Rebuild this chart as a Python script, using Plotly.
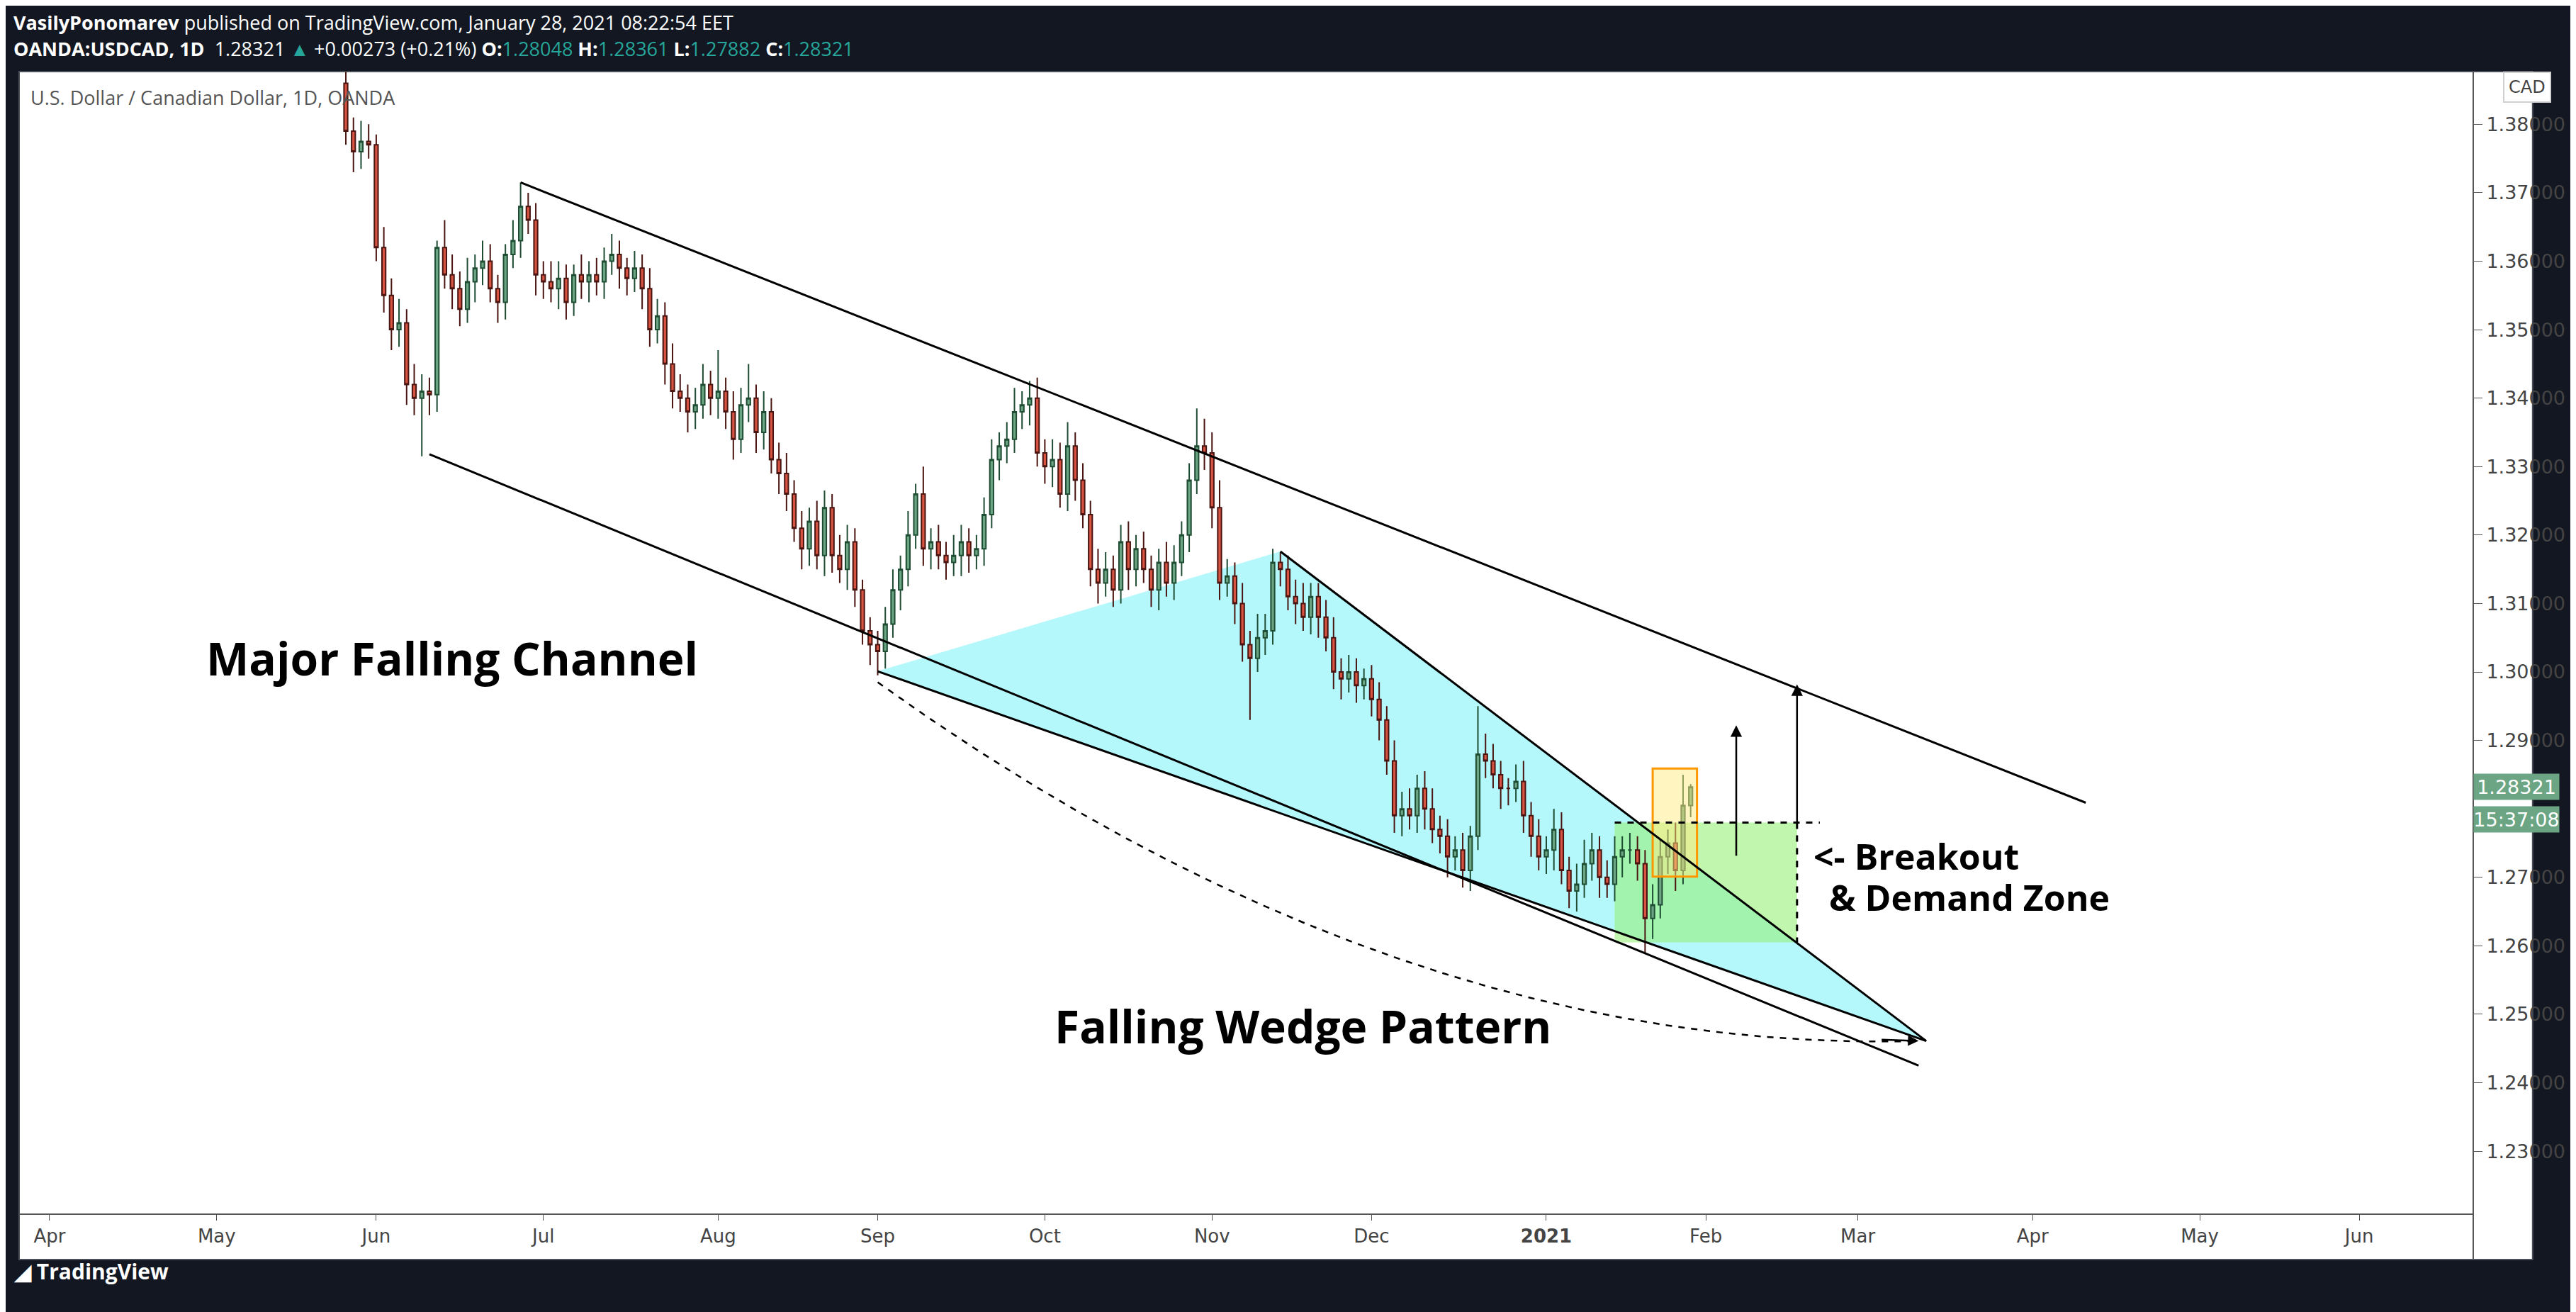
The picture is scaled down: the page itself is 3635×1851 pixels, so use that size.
import numpy as np
import pandas as pd
import plotly.graph_objects as go

# daily closes, May 26 2020 .. Jan 28 2021 (weekdays)
closes = [
    1.3790, 1.3760, 1.3775, 1.3770,
    1.3620, 1.3550, 1.3500, 1.3510, 1.3420, 1.3400, 1.3410, 1.3405, 1.3620, 1.3580, 1.3560,
    1.3530, 1.3570, 1.3590, 1.3600, 1.3560, 1.3540, 1.3610, 1.3630, 1.3680, 1.3660, 1.3580,
    1.3570, 1.3560, 1.3575, 1.3540, 1.3580, 1.3570, 1.3580, 1.3570, 1.3600, 1.3610, 1.3590,
    1.3575, 1.3590, 1.3560, 1.3500, 1.3520, 1.3450, 1.3410, 1.3400, 1.3380, 1.3390, 1.3420, 1.3400,
    1.3410, 1.3380, 1.3340, 1.3390, 1.3400, 1.3350, 1.3380, 1.3310, 1.3290, 1.3260, 1.3210,
    1.3180, 1.3220, 1.3170, 1.3240, 1.3170, 1.3150, 1.3190, 1.3120, 1.3060, 1.3040,
    1.3030, 1.3070, 1.3120, 1.3150, 1.3200, 1.3260, 1.3180, 1.3190, 1.3170, 1.3160, 1.3170,
    1.3190, 1.3170, 1.3180, 1.3230, 1.3310, 1.3330, 1.3340, 1.3380, 1.3390, 1.3400, 1.3320,
    1.3300, 1.3310, 1.3260, 1.3330, 1.3280, 1.3230, 1.3150, 1.3130, 1.3150, 1.3120, 1.3190,
    1.3150, 1.3180, 1.3150, 1.3120, 1.3160, 1.3130, 1.3160, 1.3200, 1.3280, 1.3330, 1.3320,
    1.3240, 1.3130, 1.3140, 1.3100, 1.3040, 1.3020, 1.3050, 1.3060, 1.3160, 1.3150, 1.3110,
    1.3100, 1.3080, 1.3110, 1.3080, 1.3050, 1.3000, 1.2990, 1.3000, 1.2980, 1.2990,
    1.2960, 1.2930, 1.2870, 1.2790, 1.2800, 1.2790, 1.2830, 1.2800, 1.2770, 1.2760, 1.2730,
    1.2740, 1.2710, 1.2760, 1.2880, 1.2870, 1.2850, 1.2830, 1.2830, 1.2840, 1.2790, 1.2760, 1.2730,
    1.2740, 1.2770, 1.2710, 1.2680, 1.2690, 1.2720, 1.2740, 1.2700, 1.2690, 1.2730, 1.2740,
    1.2740, 1.2720, 1.2640, 1.2660, 1.2730, 1.2750, 1.2710, 1.2805, 1.28321,
]
first_open = 1.3860
# wick lengths in pips
upper_wick = [
    40, 20, 30, 25,
    15, 30, 25, 35, 20, 30, 25, 20, 10, 40, 30,
    25, 35, 20, 30, 25, 20, 15, 30, 35, 20, 25,
    20, 30, 25, 20, 15, 30, 20, 25, 20, 30, 20,
    15, 25, 20, 30, 25, 20, 30, 25, 20, 25, 30, 20,
    60, 20, 30, 25, 50, 20, 30, 20, 25, 30, 20,
    25, 20, 30, 25, 20, 30, 25, 20, 15, 20,
    20, 25, 30, 20, 35, 15, 40, 20, 25, 20, 30,
    25, 20, 20, 25, 30, 20, 25, 35, 20, 25, 30,
    20, 30, 25, 35, 20, 25, 20, 30, 25, 20, 25,
    30, 20, 25, 20, 20, 30, 25, 20, 25, 55, 40,
    30, 40, 25, 20, 30, 20, 35, 25, 20, 15, 20,
    25, 30, 20, 20, 25, 30, 20, 25, 20, 15,
    20, 25, 20, 30, 25, 30, 20, 25, 30, 20, 25,
    20, 25, 15, 70, 30, 25, 20, 15, 25, 30, 20, 25,
    20, 30, 25, 20, 30, 35, 25, 20, 25, 30, 20,
    25, 20, 20, 30, 25, 20, 30, 45, 4,
]
lower_wick = [
    20, 30, 25, 20,
    20, 25, 30, 25, 30, 25, 85, 30, 25, 20, 30,
    25, 20, 30, 25, 20, 30, 25, 20, 25, 20, 30,
    25, 20, 30, 25, 20, 25, 30, 20, 25, 20, 30,
    25, 20, 30, 25, 20, 30, 25, 20, 30, 25, 20, 25,
    30, 25, 30, 20, 25, 30, 25, 20, 30, 25, 20,
    30, 25, 20, 30, 25, 20, 30, 25, 20, 30,
    35, 25, 20, 30, 25, 20, 25, 30, 20, 25, 20,
    30, 25, 20, 25, 20, 30, 25, 20, 25, 30, 20,
    25, 30, 20, 25, 30, 20, 25, 30, 20, 25, 20,
    30, 25, 20, 25, 30, 20, 25, 20, 25, 20, 25,
    30, 25, 20, 30, 25, 90, 20, 25, 20, 25, 20,
    30, 20, 25, 30, 20, 25, 30, 20, 25, 20,
    25, 30, 20, 25, 30, 20, 25, 30, 20, 25, 30,
    20, 25, 30, 20, 25, 20, 30, 25, 20, 25, 30, 20,
    25, 30, 20, 25, 30, 20, 25, 30, 20, 25, 30,
    20, 25, 50, 30, 20, 25, 30, 20, 17,
]

dates = pd.bdate_range("2020-05-26", "2021-01-28")
opens = [first_open] + closes[:-1]
opens[-1] = 1.28048
highs = [max(o, c) + u / 10000 for o, c, u in zip(opens, closes, upper_wick)]
lows = [min(o, c) - d / 10000 for o, c, d in zip(opens, closes, lower_wick)]

# month ticks (first weekday of each month, weekends are skipped on the axis)
tick_dates = ["2020-04-01", "2020-05-01", "2020-06-01", "2020-07-01", "2020-08-03", "2020-09-01",
              "2020-10-01", "2020-11-02", "2020-12-01", "2021-01-01", "2021-02-01", "2021-03-01",
              "2021-04-01", "2021-05-03", "2021-06-01"]
tick_text = ["Apr", "May", "Jun", "Jul", "Aug", "Sep", "Oct", "Nov", "Dec", "<b>2021</b>",
             "Feb", "Mar", "Apr", "May", "Jun"]
price_ticks = [1.23, 1.24, 1.25, 1.26, 1.27, 1.29, 1.30, 1.31, 1.32, 1.33, 1.34, 1.35, 1.36, 1.37, 1.38]

fig = go.Figure()

# wedge fill (shape, so it sits under the candles)
fig.add_shape(type="path", path="M 2020-09-01,1.3001 L 2020-11-13,1.3176 L 2021-03-12,1.2461 Z",
              fillcolor="rgba(140,245,250,0.65)", line=dict(width=0), layer="below")

# demand zone + breakout box
fig.add_shape(type="rect", x0="2021-01-14", x1="2021-02-17", y0=1.2605, y1=1.2780,
              fillcolor="rgba(150,240,120,0.6)", line=dict(width=0), layer="below")
fig.add_shape(type="rect", x0="2021-01-21", x1="2021-01-28 20:00", y0=1.2701, y1=1.2859,
              fillcolor="rgba(255,235,130,0.5)", line=dict(color="#ff9800", width=3))

fig.add_trace(go.Candlestick(
    x=dates, open=opens, high=highs, low=lows, close=closes,
    increasing=dict(fillcolor="#6ba583", line=dict(color="#1f4d33", width=2)),
    decreasing=dict(fillcolor="#d75442", line=dict(color="#4a1510", width=2)),
    whiskerwidth=0, showlegend=False))

black = dict(color="#000000", width=3)
# channel
fig.add_shape(type="line", x0="2020-06-26", y0=1.3715, x1="2021-04-12", y1=1.2809, line=black)
fig.add_shape(type="line", x0="2020-06-10", y0=1.3318, x1="2021-03-11", y1=1.2425, line=black)
# wedge lines
fig.add_shape(type="line", x0="2020-09-01", y0=1.3001, x1="2021-03-12", y1=1.2461, line=black)
fig.add_shape(type="line", x0="2020-11-13", y0=1.3176, x1="2021-03-12", y1=1.2461, line=black)
# demand zone dashed edges
dash = dict(color="#000000", width=3, dash="dash")
fig.add_shape(type="line", x0="2021-01-14", y0=1.2780, x1="2021-02-22", y1=1.2780, line=dash)
fig.add_shape(type="line", x0="2021-02-17", y0=1.2780, x1="2021-02-17", y1=1.2605, line=dash)

# dashed projection curve (quadratic bezier over trading days)
curve_days = pd.bdate_range("2020-09-01", "2021-03-11")
p0, pc, p1 = 1.2985, 1.2440, 1.2461
t = np.linspace(0, 1, len(curve_days))
curve_y = (1 - t) ** 2 * p0 + 2 * (1 - t) * t * pc + t ** 2 * p1
fig.add_trace(go.Scatter(x=curve_days, y=curve_y, mode="lines",
                         line=dict(color="#000", width=2.5, dash="dash"), hoverinfo="skip"))
fig.add_annotation(x="2021-03-11", y=1.2461, ax="2021-03-04", ay=1.2463, axref="x", ayref="y",
                   showarrow=True, arrowhead=2, arrowsize=1.2, arrowwidth=2.5, arrowcolor="#000",
                   text="", standoff=0)

arrows = [("2021-02-05", 1.2730, 1.2922), ("2021-02-17", 1.2780, 1.2982)]
for xd, y0, y1 in arrows:
    fig.add_annotation(x=xd, y=y1, ax=xd, ay=y0, axref="x", ayref="y", xref="x", yref="y",
                       showarrow=True, arrowhead=2, arrowsize=1.3, arrowwidth=2.5, arrowcolor="#000", text="")

big = dict(family="Open Sans", size=64, color="#000")
fig.add_annotation(x="2020-06-15", y=1.3020, text="<b>Major Falling Channel</b>", showarrow=False, font=big)
fig.add_annotation(x="2020-11-18", y=1.2483, text="<b>Falling Wedge Pattern</b>", showarrow=False, font=big)
mid = dict(family="Open Sans", size=50, color="#000")
fig.add_annotation(x="2021-02-19", y=1.2731, text="<b><- Breakout</b>", showarrow=False, font=mid, xanchor="left")
fig.add_annotation(x="2021-02-23", y=1.2671, text="<b>& Demand Zone</b>", showarrow=False, font=mid, xanchor="left")

# right-side price labels
fig.add_annotation(xref="paper", x=1.0, y=1.28321, text="1.28321", showarrow=False, xanchor="left",
                   font=dict(family="DejaVu Sans", size=27, color="#fff"), bgcolor="#6ba583", width=118, height=34)
fig.add_annotation(xref="paper", x=1.0, y=1.2785, text="15:37:08", showarrow=False, xanchor="left",
                   font=dict(family="DejaVu Sans", size=27, color="#fff"), bgcolor="#6ba583", width=118, height=34)
fig.add_annotation(xref="paper", yref="paper", x=1.012, y=1.0, text="CAD", showarrow=False, xanchor="left",
                   font=dict(family="DejaVu Sans", size=24, color="#444"), bgcolor="#fff",
                   bordercolor="#d0d0d0", borderwidth=2, borderpad=6)

# header / titles
fig.add_annotation(xref="paper", yref="paper", x=-0.003, y=1.056, xanchor="left", showarrow=False,
                   text="<b>VasilyPonomarev</b> published on TradingView.com, January 28, 2021 08:22:54 EET",
                   font=dict(family="Open Sans", size=27, color="#fff"))
fig.add_annotation(xref="paper", yref="paper", x=-0.003, y=1.033, xanchor="left", showarrow=False,
                   text="<b>OANDA:USDCAD, 1D</b>  1.28321 <span style='color:#26a69a'>▲</span> +0.00273 (+0.21%) "
                        "<b>O:</b><span style='color:#26a69a'>1.28048</span> <b>H:</b><span style='color:#26a69a'>1.28361</span> "
                        "<b>L:</b><span style='color:#26a69a'>1.27882</span> <b>C:</b><span style='color:#26a69a'>1.28321</span>",
                   font=dict(family="Open Sans", size=27, color="#fff"))
fig.add_annotation(xref="paper", yref="paper", x=0.004, y=0.99, xanchor="left", yanchor="top", showarrow=False,
                   text="U.S. Dollar / Canadian Dollar, 1D, OANDA",
                   font=dict(family="Open Sans", size=27, color="#555"))
fig.add_annotation(xref="paper", yref="paper", x=-0.003, y=-0.0646, xanchor="left", showarrow=False,
                   text="<b>◢ TradingView</b>", font=dict(family="Open Sans", size=30, color="#fff"))

# white panel behind plot
fig.add_shape(type="rect", xref="paper", yref="paper", x0=0, x1=1.0242, y0=-0.0403, y1=1.0,
              fillcolor="#ffffff", line=dict(color="#4a4f5a", width=2), layer="below")
fig.add_shape(type="line", xref="paper", yref="paper", x0=1.0, x1=1.0, y0=-0.0403, y1=1.0,
              line=dict(color="#555", width=2))

fig.update_layout(
    width=3635, height=1851, margin=dict(l=19, r=153, t=93, b=147),
    paper_bgcolor="#131722", plot_bgcolor="#ffffff", showlegend=False,
    xaxis=dict(range=["2020-03-26", "2021-06-22"], rangeslider=dict(visible=False),
               rangebreaks=[dict(bounds=["sat", "mon"])],
               tickvals=tick_dates, ticktext=tick_text, showgrid=False, ticks="outside", ticklen=8,
               tickcolor="#555", tickfont=dict(family="DejaVu Sans", size=26, color="#444"),
               showline=True, linecolor="#555", linewidth=2),
    yaxis=dict(range=[1.2209, 1.3877], side="right", tickvals=price_ticks, tickformat=".5f",
               showgrid=False, ticks="outside", ticklen=12, tickcolor="#555",
               tickfont=dict(family="DejaVu Sans", size=27, color="#444"), zeroline=False),
)

fig.write_html("out.html")
